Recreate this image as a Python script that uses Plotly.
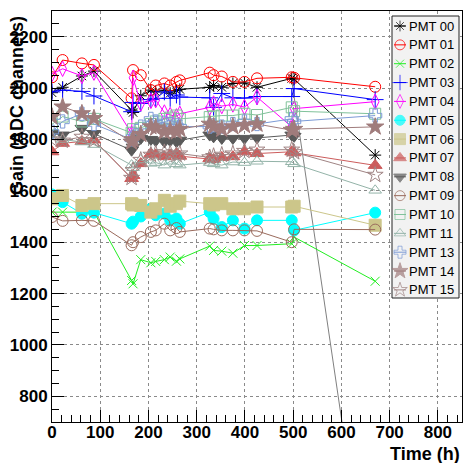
import plotly.graph_objects as go

# ---------------- data ----------------
time_h = [0, 22, 62, 87, 165, 168, 184, 205, 215, 233, 245, 258, 265,
          327, 335, 352, 375, 399, 425, 497, 502, 670]
time_h_08 = time_h[:-1]

pmt00 = [1982, 2003, 2047, 2066, 1914, 1905, 1970, 1992, 1985, 1992, 1980, 1990, 1995,
         2003, 2010, 2003, 2018, 2020, 2003, 2038, 2035, 1739]
pmt01 = [2042, 2109, 2096, 2090, 1960, 2070, 2050, 1992, 2010, 2018, 2010, 2024, 2030,
         2060, 2050, 2045, 2024, 2024, 2038, 2042, 2040, 2005]
pmt02 = [1517, 1517, 1515, 1517, 1251, 1238, 1332, 1320, 1325, 1332, 1342, 1326, 1335,
         1385, 1368, 1365, 1357, 1387, 1387, 1394, 1420, 1248]
pmt03 = [1985, 1992, 1987, 1969, 1908, 1944, 1940, 1955, 1960, 1985, 1960, 1973, 1965,
         1962, 1925, 1979, 1962, 1961, 1967, 1967, 1998, 1955]
pmt04 = [2055, 2075, 2047, 2060, 1823, 2040, 1940, 1950, 1953, 1905, 1895, 1890, 1900,
         1925, 1940, 1930, 1936, 1926, 1965, 1849, 1920, 1947]
pmt05 = [1586, 1556, 1511, 1515, 1472, 1480, 1500, 1530, 1505, 1511, 1485, 1492, 1472,
         1517, 1492, 1459, 1485, 1453, 1485, 1485, 1446, 1515]
pmt06 = [1569, 1582, 1543, 1550, 1550, 1545, 1543, 1517, 1530, 1563, 1540, 1550, 1560,
         1550, 1545, 1550, 1530, 1530, 1537, 1537, 1540, 1466]
pmt07 = [1752, 1785, 1792, 1798, 1648, 1660, 1706, 1745, 1740, 1733, 1740, 1745, 1735,
         1726, 1722, 1730, 1733, 1752, 1745, 1752, 1748, 1699]
pmt08 = [1823, 1817, 1843, 1823, 1758, 1770, 1804, 1800, 1795, 1791, 1795, 1791, 1797,
         1817, 1810, 1804, 1804, 1804, 1806, 1817, 1812]
pmt09 = [1498, 1483, 1485, 1483, 1388, 1400, 1420, 1440, 1446, 1472, 1446, 1455, 1440,
         1453, 1450, 1446, 1446, 1446, 1444, 1400, 1450, 1449]
pmt10 = [1859, 1889, 1870, 1880, 1826, 1840, 1845, 1860, 1870, 1880, 1885, 1893, 1880,
         1887, 1890, 1893, 1893, 1900, 1895, 1925, 1910, 1900]
pmt11 = [1810, 1800, 1790, 1780, 1700, 1690, 1720, 1707, 1710, 1700, 1715, 1705, 1700,
         1710, 1705, 1700, 1712, 1710, 1715, 1713, 1705, 1602]
pmt13 = [1830, 1870, 1900, 1860, 1800, 1810, 1850, 1880, 1870, 1865, 1860, 1855, 1850,
         1850, 1855, 1850, 1860, 1870, 1860, 1880, 1870, 1893]
pmt14 = [1888, 1927, 1901, 1882, 1790, 1800, 1820, 1850, 1845, 1830, 1835, 1830, 1840,
         1860, 1850, 1840, 1850, 1855, 1860, 1836, 1840, 1849]
pmt15 = [1800, 1795, 1810, 1797, 1650, 1680, 1720, 1740, 1745, 1750, 1745, 1740, 1745,
         1730, 1735, 1740, 1745, 1755, 1760, 1760, 1750, 1662]

# steep grey line (unlabelled channel)
time_h_12 = [497, 656]
pmt12 = [2030, 0]

names = ["PMT 00", "PMT 01", "PMT 02", "PMT 03", "PMT 04", "PMT 05", "PMT 06", "PMT 07",
         "PMT 08", "PMT 09", "PMT 10", "PMT 11", "PMT 13", "PMT 14", "PMT 15"]
times = [time_h, time_h, time_h, time_h, time_h, time_h, time_h, time_h,
         time_h_08, time_h, time_h, time_h, time_h, time_h, time_h]
gains = [pmt00, pmt01, pmt02, pmt03, pmt04, pmt05, pmt06, pmt07,
         pmt08, pmt09, pmt10, pmt11, pmt13, pmt14, pmt15]

x_ticks = [0, 100, 200, 300, 400, 500, 600, 700, 800]
y_ticks = [800, 1000, 1200, 1400, 1600, 1800, 2000, 2200]

# ---------------- styles ----------------
colors = ["#000000", "#ff0000", "#22ee22", "#0000ff", "#ff00ff", "#00ffff", "#ccc68a",
          "#cc5c5c", "#5a5a5a", "#9a6b5d", "#80c29a", "#93b3a8", "#7c9ad6", "#a07c7c", "#a08484"]
symbols = ["asterisk-open", "circle-open", "x-thin-open", "cross-thin-open", "diamond-tall-open",
           "circle", "square", "triangle-up", "triangle-down", "circle-open", "square-open",
           "triangle-up-open", "cross-open", "star", "star-open"]
sizes = [10, 11, 9, 12, 11, 11, 12, 12, 12, 11, 11, 11, 11, 13, 12]
leg_sizes = [9, 10, 8, 11, 10, 10, 11, 11, 11, 10, 10, 10, 10, 12, 11]

W, H = 464, 463
L, R, T, B = 52, 2, 11, 41
PW, PH = W - L - R, H - T - B

fig = go.Figure()

fig.add_trace(go.Scatter(x=time_h_12, y=pmt12, mode="lines", showlegend=False,
                         line=dict(color="#808080", width=1), name="PMT 12"))

for n, tx, gy, c, s, sz in zip(names, times, gains, colors, symbols, sizes):
    fig.add_trace(go.Scatter(
        x=tx, y=gy, mode="lines+markers", name=n, showlegend=False,
        line=dict(color=c, width=1),
        marker=dict(symbol=s, size=sz, color=c, line=dict(color=c, width=1)),
    ))

# ---------------- custom compact legend (ROOT style) ----------------
def fx(px):
    return (px - L) / PW

def fy(py):
    return 1 - (py - T) / PH

bx0, bx1, by0, by1 = fx(392), fx(459), fy(16), fy(298)
fig.add_trace(go.Scatter(x=[bx0, bx1, bx1, bx0, bx0], y=[by0, by0, by1, by1, by0],
                         xaxis="x2", yaxis="y2", mode="lines", fill="toself",
                         fillcolor="#f2f2f2", line=dict(color="#222222", width=1),
                         showlegend=False, hoverinfo="skip"))

annotations = []
for i, (n, c, s, sz) in enumerate(zip(names, colors, symbols, leg_sizes)):
    yc = fy(26 + 18.85 * i)
    fig.add_trace(go.Scatter(
        x=[fx(394), fx(400), fx(406)], y=[yc, yc, yc], xaxis="x2", yaxis="y2",
        mode="lines+markers", showlegend=False, hoverinfo="skip",
        line=dict(color=c, width=1),
        marker=dict(symbol=s, size=[0, sz, 0], color=c, line=dict(color=c, width=1)),
    ))
    annotations.append(dict(x=fx(407), y=yc, xref="x2", yref="y2", text=n,
                            showarrow=False, xanchor="left", yanchor="middle",
                            font=dict(family="Liberation Sans", size=13, color="#000000")))

annotations.append(dict(x=fx(17), y=fy(106), xref="paper", yref="paper",
                        text="Gain (ADC channels)", textangle=-90, showarrow=False,
                        xanchor="center", yanchor="middle",
                        font=dict(family="Liberation Sans", size=18, color="#000000", weight="bold")))
annotations.append(dict(x=1.0, y=fy(454), xref="paper", yref="paper",
                        text="Time (h)", showarrow=False, xanchor="right", yanchor="middle",
                        font=dict(family="Liberation Sans", size=18, color="#000000", weight="bold")))

axis_common = dict(showline=True, linecolor="#000000", linewidth=1, mirror=True,
                   ticks="inside", tickcolor="#000000", tickwidth=1,
                   showgrid=True, gridcolor="#8a8a8a", griddash="dot", gridwidth=1,
                   zeroline=False,
                   tickfont=dict(family="Liberation Sans", size=17, color="#000000", weight="bold"))

fig.update_layout(
    width=W, height=H,
    margin=dict(l=L, r=R, t=T, b=B),
    paper_bgcolor="#ffffff", plot_bgcolor="#ffffff",
    showlegend=False,
    xaxis=dict(range=[0, 850], tickvals=x_ticks, ticklen=12, ticklabelstandoff=-5,
               minor=dict(dtick=20, tick0=0, ticks="inside", ticklen=7, tickcolor="#000000", showgrid=False),
               **axis_common),
    yaxis=dict(range=[700, 2300], tickvals=y_ticks, ticklen=12,
               minor=dict(dtick=50, tick0=0, ticks="inside", ticklen=7, tickcolor="#000000", showgrid=False),
               **axis_common),
    xaxis2=dict(overlaying="x", range=[0, 1], visible=False),
    yaxis2=dict(overlaying="y", range=[0, 1], visible=False),
    annotations=annotations,
)

fig.write_html("out.html")
